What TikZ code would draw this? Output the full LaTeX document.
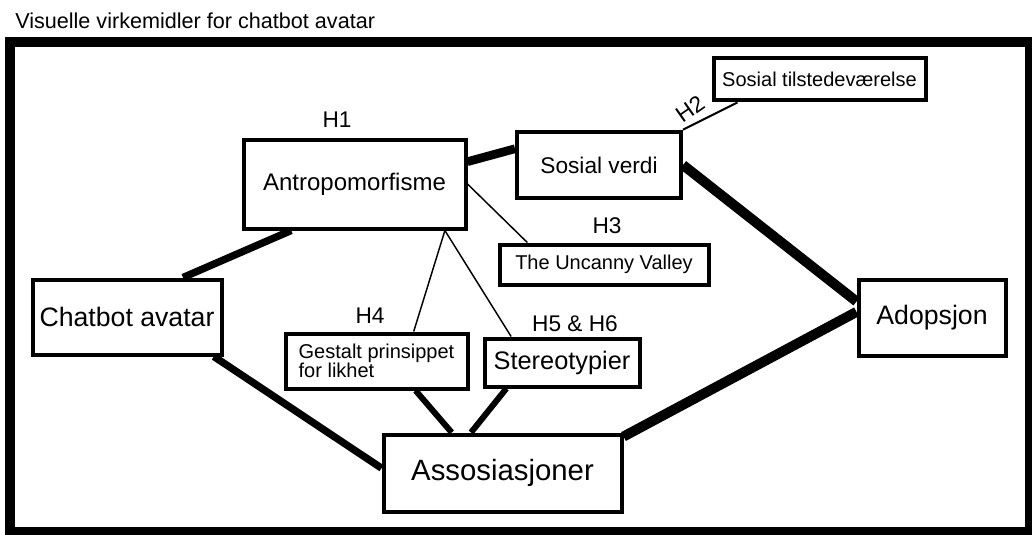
\documentclass[tikz,border=0pt]{standalone}
\usepackage{fontspec}
\setmainfont{Liberation Sans}
\usetikzlibrary{calc}
\begin{document}
\begin{tikzpicture}[x=0.75pt,y=-0.75pt,box/.style={draw,line width=3pt,inner sep=0pt,fill=white},hyp/.style={inner sep=0pt,font=\fontsize{17}{20}\selectfont},thinlink/.style={line width=1.1pt}]
\useasboundingbox(0,0)rectangle(1032,535);
\draw[line width=7pt](10,42)rectangle(1030,531.5);
\node[anchor=base west,inner sep=0pt,font=\fontsize{16.2}{19}\selectfont](title)at(15,29){Visuelle virkemidler for chatbot avatar};
\node[box,minimum width=166.5pt,minimum height=66.75pt,font=\fontsize{18}{21}\selectfont](anto)at(354.5,184){Antropomorfisme};
\node[box,minimum width=123pt,minimum height=50pt,font=\fontsize{17}{20}\selectfont](sosv)at(599,165){Sosial verdi};
\node[box,minimum width=159pt,minimum height=31.5pt,font=\fontsize{15}{18}\selectfont](sost)at(819.5,79.5){Sosial tilstedeværelse};
\node[box,minimum width=156.75pt,minimum height=30pt,font=\fontsize{15}{18}\selectfont](uncv)at(604,264.5){The Uncanny Valley};
\node[box,minimum width=141.75pt,minimum height=56.25pt,font=\fontsize{20}{24}\selectfont](chat)at(127,317){Chatbot avatar};
\node[box,minimum width=136.5pt,minimum height=41.25pt,align=left,font=\fontsize{15}{14.5}\selectfont](gest)at(376.5,361){Gestalt prinsippet\\for likhet};
\node[box,minimum width=116.25pt,minimum height=36pt,font=\fontsize{19}{22}\selectfont](ster)at(562,362.5){Stereotypier};
\node[box,minimum width=178.5pt,minimum height=57.75pt,font=\fontsize{22}{26}\selectfont](asso)at(502.5,473){Assosiasjoner};
\node[box,minimum width=110.25pt,minimum height=57pt,font=\fontsize{20}{24}\selectfont](adop)at(932,317.5){Adopsjon};
\node[hyp](h1)at(337,120){H1};
\node[hyp,rotate=35](h2)at(690,109){H2};
\node[hyp](h3)at(607,226){H3};
\node[hyp](h4)at(370,316){H4};
\node[hyp](h56)at(575,324){H5 \& H6};
\draw[line width=5.5pt]($(chat.north west)!0.79!(chat.north east)$)--($(anto.south west)!0.22!(anto.south east)$);
\draw[line width=5.5pt]($(chat.south west)!0.95!(chat.south east)$)--($(asso.north west)!0.44!(asso.south west)$);
\draw[line width=6.5pt]($(anto.north east)!0.26!(anto.south east)$)--($(sosv.north west)!0.27!(sosv.south west)$);
\draw[line width=7.5pt](sosv.east)--($(adop.north west)!0.3!(adop.south west)$);
\draw[line width=7.5pt]($(asso.north east)!0.05!(asso.south east)$)--($(adop.north west)!0.43!(adop.south west)$);
\draw[line width=4.5pt]($(gest.south west)!0.71!(gest.south east)$)--($(asso.north west)!0.29!(asso.north east)$);
\draw[line width=4.5pt]($(ster.south west)!0.15!(ster.south east)$)--($(asso.north west)!0.37!(asso.north east)$);
\draw[thinlink](anto.east)--($(uncv.north west)!0.14!(uncv.north east)$);
\draw[thinlink]($(anto.south west)!0.9!(anto.south east)$)--($(gest.north west)!0.7!(gest.north east)$);
\draw[thinlink]($(anto.south west)!0.9!(anto.south east)$)--($(ster.north west)!0.18!(ster.north east)$);
\draw[line width=1.5pt](sosv.north east)--($(sost.south west)!0.12!(sost.south east)$);
\end{tikzpicture}
\end{document}
